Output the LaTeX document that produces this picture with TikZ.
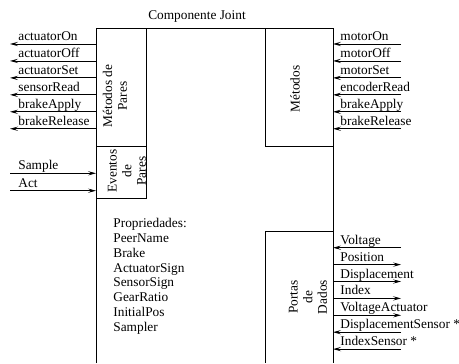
\documentclass[tikz,border=0pt]{standalone}
\usepackage{fontspec}
\setmainfont{Liberation Serif}
\usetikzlibrary{arrows.meta}
\begin{document}
\begin{tikzpicture}[x=0.75pt,y=-0.75pt,
  font=\fontsize{10}{11}\selectfont,
  line width=0.6pt,
  >={Stealth[length=6pt,width=3.2pt,inset=2.5pt]},
  lbl/.style={anchor=base west,inner sep=0pt},
  vtxt/.style={rotate=90,align=center,inner sep=0pt,font=\fontsize{10}{11}\selectfont},
  boxs/.style={draw,inner sep=0pt}]
\useasboundingbox (0,0) rectangle (459,363);
% main frame
\coordinate (fbl) at (96,363);
\coordinate (ftl) at (96,28);
\coordinate (ftr) at (333,28);
\coordinate (fbr) at (333,363);
\draw (fbl) -- (ftl) -- (ftr) -- (fbr);
\node[anchor=base] (title) at (197,20) {Componente Joint};
% boxes
\coordinate (mp1) at (96,28); \coordinate (mp2) at (146,146);
\draw (mp1) rectangle (mp2);
\coordinate (ep1) at (96,146); \coordinate (ep2) at (146,198);
\draw (ep1) rectangle (ep2);
\coordinate (m1) at (265,28); \coordinate (m2) at (333,146);
\draw (m1) rectangle (m2);
\coordinate (pd1) at (333,231); \coordinate (pd2) at (265,231); \coordinate (pd3) at (265,363);
\draw (pd1) -- (pd2) -- (pd3);
% box texts
\node[vtxt] (tmp) at (115,96) {Métodos de\\Pares};
\node[vtxt] (tep) at (127,171) {Eventos\\de\\Pares};
\node[vtxt] (tm) at (295,89) {Métodos};
\node[vtxt] (tpd) at (308,297) {Portas\\de\\Dados};
% left peer methods
\foreach \t [count=\i] in {actuatorOn,actuatorOff,actuatorSet,sensorRead,brakeApply,brakeRelease} {
  \coordinate (pl\i) at (96,{44+(\i-1)*16.95});
  \coordinate (el\i) at (10,{44+(\i-1)*16.95});
  \draw[->] (pl\i) -- (el\i);
  \node[lbl] (ll\i) at (18,{44+(\i-1)*16.95-3.5}) {\t};
}
% peer events
\foreach \t [count=\i] in {Sample,Act} {
  \coordinate (pe\i) at (96,{173.3+(\i-1)*17.4});
  \coordinate (ee\i) at (10,{173.3+(\i-1)*17.4});
  \draw[->] (ee\i) -- (pe\i);
  \node[lbl] (le\i) at (18,{173.3+(\i-1)*17.4-3.5}) {\t};
}
% right methods
\foreach \t [count=\i] in {motorOn,motorOff,motorSet,encoderRead,brakeApply,brakeRelease} {
  \coordinate (pr\i) at (333,{44+(\i-1)*16.95});
  \coordinate (er\i) at (401,{44+(\i-1)*16.95});
  \draw[->] (er\i) -- (pr\i);
  \node[lbl] (lr\i) at (340,{44+(\i-1)*16.95-3.5}) {\t};
}
% data ports
\foreach \t [count=\i] in {Voltage,Position,Displacement,Index,VoltageActuator,DisplacementSensor *,IndexSensor *} {
  \coordinate (pp\i) at (333,{247.7+(\i-1)*16.9});
  \coordinate (ep\i) at (401,{247.7+(\i-1)*16.9});
  \node[lbl] (lp\i) at (340,{247.7+(\i-1)*16.9-3.5}) {\t};
}
\draw[->] (ep1) -- (pp1);
\draw[->] (pp2) -- (ep2);
\draw[->] (pp3) -- (ep3);
\draw[->] (pp4) -- (ep4);
\draw[->] (pp5) -- (ep5);
\draw[->] (ep6) -- (pp6);
\draw[->] (ep7) -- (pp7);
% properties
\node[anchor=north west,align=left,inner sep=0pt,font=\fontsize{10}{11.1}\selectfont] (props) at (113,218)
  {Propriedades:\\PeerName\\Brake\\ActuatorSign\\SensorSign\\GearRatio\\InitialPos\\Sampler};
\end{tikzpicture}
\end{document}
